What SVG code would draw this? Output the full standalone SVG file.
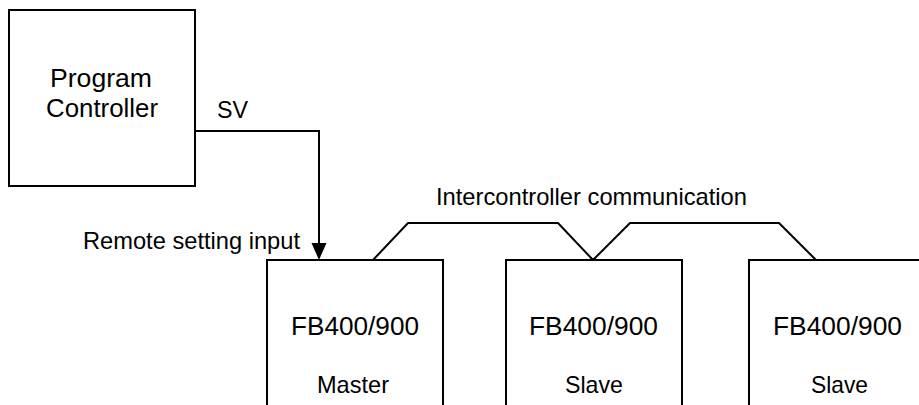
<svg xmlns="http://www.w3.org/2000/svg" width="919" height="405" viewBox="0 0 919 405">
<style>
.box{fill:#fff;stroke:#000;stroke-width:2}
.ln{fill:none;stroke:#000;stroke-width:2}
text{font-family:"Liberation Sans",Arial,sans-serif;font-size:24px;fill:#000}
.big{font-size:26px}
</style>
<rect width="919" height="405" fill="#fff"/>
<g id="connectors">
<path class="ln" d="M195,131 H319 V243"/>
<path d="M311.5,243 L326.5,243 L319,260 Z" fill="#000"/>
<path class="ln" d="M373,260 L408,223 H558 L593,260 L630,223 H779 L816,260"/>
<text x="83" y="249" textLength="217" lengthAdjust="spacingAndGlyphs">Remote setting input</text>
<text x="217" y="118" textLength="31" lengthAdjust="spacingAndGlyphs">SV</text>
<text x="436" y="205" textLength="311" lengthAdjust="spacingAndGlyphs">Intercontroller communication</text>
</g>
<g id="program-controller">
<rect class="box" x="9" y="10" width="186" height="176"/>
<text class="big" x="50" y="87" textLength="102" lengthAdjust="spacingAndGlyphs">Program</text>
<text class="big" x="46" y="117" textLength="112" lengthAdjust="spacingAndGlyphs">Controller</text>
</g>
<g id="master">
<rect class="box" x="267" y="260" width="176" height="160"/>
<text class="big" x="291" y="335" textLength="128" lengthAdjust="spacingAndGlyphs">FB400/900</text>
<text x="317" y="393" textLength="72" lengthAdjust="spacingAndGlyphs">Master</text>
</g>
<g id="slave1">
<rect class="box" x="506" y="260" width="176" height="160"/>
<text class="big" x="529" y="335" textLength="129" lengthAdjust="spacingAndGlyphs">FB400/900</text>
<text x="565" y="393" textLength="58" lengthAdjust="spacingAndGlyphs">Slave</text>
</g>
<g id="slave2">
<rect class="box" x="749" y="260" width="176" height="160"/>
<text class="big" x="773" y="335" textLength="129" lengthAdjust="spacingAndGlyphs">FB400/900</text>
<text x="811" y="393" textLength="57" lengthAdjust="spacingAndGlyphs">Slave</text>
</g>
</svg>
